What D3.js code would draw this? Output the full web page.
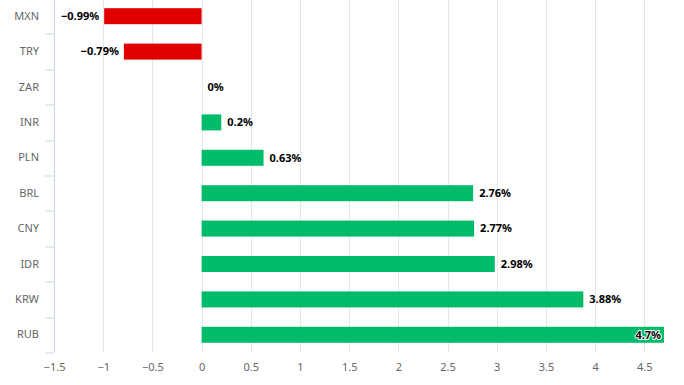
<!DOCTYPE html>
<html>
<head>
<meta charset="utf-8">
<script src="https://cdn.jsdelivr.net/npm/d3@7"></script>
<style>
  body { margin: 0; background: #fff; }
  svg text { font-family: "Lucida Grande", "Noto Sans", sans-serif; }
</style>
</head>
<body>
<div id="chart"></div>
<script>
// currencies, top to bottom
var currencies = ["MXN", "TRY", "ZAR", "INR", "PLN", "BRL", "CNY", "IDR", "KRW", "RUB"],
    changes = [-0.99, -0.79, 0, 0.2, 0.63, 2.76, 2.77, 2.98, 3.88, 4.7],
    xTicks = [-1.5, -1, -0.5, 0, 0.5, 1, 1.5, 2, 2.5, 3, 3.5, 4, 4.5];

var W = 684, H = 385,
    margin = {top: -1.5, right: 20, bottom: 32.5, left: 54},
    width = W - margin.left - margin.right,
    height = H - margin.top - margin.bottom;

var data = currencies.map(function(c, i) { return {label: c, value: changes[i]}; });

var x = d3.scaleLinear().domain([-1.5, 4.7]).range([0, width]),
    y = d3.scaleBand().domain(currencies).range([0, height]);

var barH = 16;

var svg = d3.select("#chart").append("svg")
    .attr("width", W)
    .attr("height", H)
  .append("g")
    .attr("transform", "translate(" + margin.left + "," + margin.top + ")");

// vertical grid lines
svg.append("g")
  .selectAll("line")
  .data(xTicks)
  .enter().append("line")
    .attr("x1", function(d) { return Math.round(x(d)) + 0.5; })
    .attr("x2", function(d) { return Math.round(x(d)) + 0.5; })
    .attr("y1", 0)
    .attr("y2", height)
    .style("stroke", "#e6e6e6");

// bars
svg.selectAll(".bar")
    .data(data)
  .enter().append("rect")
    .attr("class", "bar")
    .attr("x", function(d) { return x(Math.min(0, d.value)); })
    .attr("width", function(d) { return Math.abs(x(d.value) - x(0)); })
    .attr("y", function(d) { return y(d.label) + (y.bandwidth() - barH) / 2; })
    .attr("height", barH)
    .style("fill", function(d) { return d.value < 0 ? "#e10000" : "#00bb6a"; });

// value labels
function inside(d) { return x(d.value) + 45 > width; }

svg.selectAll(".val")
    .data(data)
  .enter().append("text")
    .attr("class", "val")
    .attr("x", function(d) {
      if (d.value < 0) return x(d.value) - 5;
      if (inside(d)) return x(d.value) - 3;
      return x(d.value) + 6;
    })
    .attr("y", function(d) { return y(d.label) + y.bandwidth() / 2; })
    .attr("dy", "0.35em")
    .style("text-anchor", function(d) { return d.value < 0 || inside(d) ? "end" : "start"; })
    .style("font-size", "11px")
    .style("font-weight", "bold")
    .style("fill", "#000")
    .style("paint-order", "stroke")
    .style("stroke", "#fff")
    .style("stroke-width", function(d) { return inside(d) ? 2 : 0; })
    .style("stroke-linejoin", "round")
    .text(function(d) { return String(d.value).replace("-", "\u2212") + "%"; });

// left axis
var yAxis = svg.append("g")
    .call(d3.axisLeft(y).tickSize(0).tickPadding(15));
yAxis.select(".domain").remove();
yAxis.selectAll("text")
    .style("font-size", "11px")
    .style("fill", "#666");

svg.append("line")
    .attr("x1", 0.5).attr("x2", 0.5)
    .attr("y1", 0).attr("y2", height)
    .style("stroke", "#ccd6eb");

svg.append("g")
  .selectAll("line")
  .data(d3.range(currencies.length + 1))
  .enter().append("line")
    .attr("x1", -9).attr("x2", 0)
    .attr("y1", function(i) { return Math.round(i * y.step()) + 0.5; })
    .attr("y2", function(i) { return Math.round(i * y.step()) + 0.5; })
    .style("stroke", "#ccd6eb");

// bottom axis
var xAxis = svg.append("g")
    .attr("transform", "translate(0," + height + ")")
    .call(d3.axisBottom(x).tickValues(xTicks).tickSize(0).tickPadding(11)
      .tickFormat(function(d) { return String(d).replace("-", "\u2212"); }));
xAxis.select(".domain").remove();
xAxis.selectAll("text")
    .style("font-size", "11px")
    .style("fill", "#666");
</script>
</body>
</html>
